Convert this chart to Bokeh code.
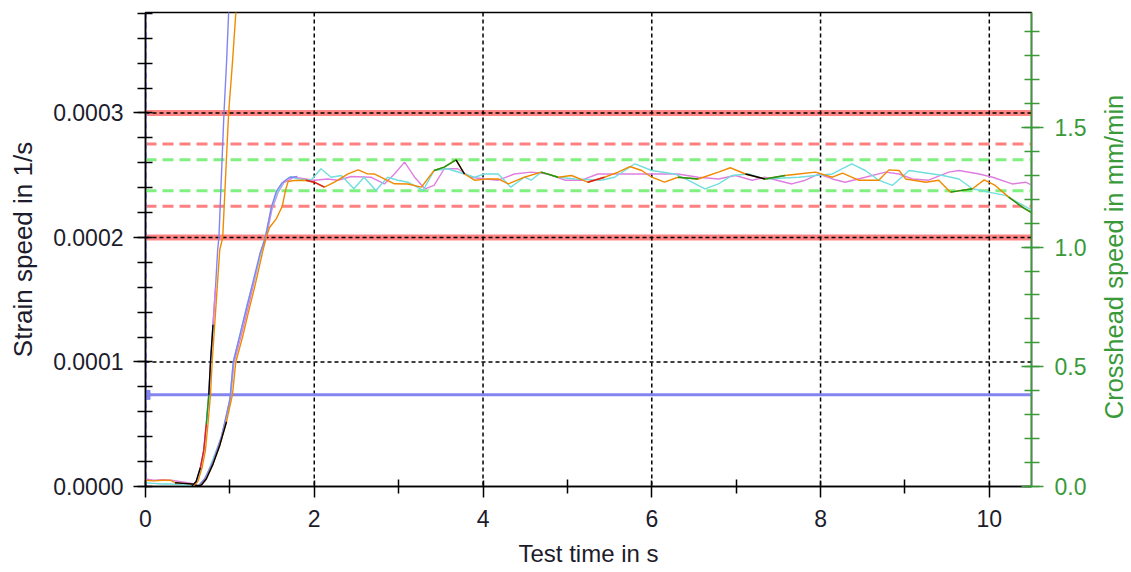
import math
from bokeh.plotting import figure
from bokeh.layouts import row
from bokeh.models import Range1d, LinearAxis, FixedTicker, PrintfTickFormatter, Span
from bokeh.core.properties import value
from bokeh.embed import file_html
from bokeh.resources import INLINE

# ---------------- data ----------------
x_ticks = [0, 2, 4, 6, 8, 10]
x_minor = [1, 3, 5, 7, 9]
y_ticks = [0.0, 0.0001, 0.0002, 0.0003]
y2_ticks = [0.0, 0.5, 1.0, 1.5]

limit_outer = [0.0002, 0.0003]          # solid red tolerance band
limit_10pct = [0.000225, 0.000275]      # red dashed
limit_5pct = [0.0002375, 0.0002625]     # green dashed
preset_rate = 0.0000736                 # blue horizontal line

# steep ramp curves
ramp_a_t = [0.55, 0.60, 0.65, 0.69, 0.72, 0.75, 0.77, 0.80, 0.83, 0.855, 0.87, 0.90, 0.93, 0.96, 0.985, 1.00]
ramp_a_v = [0.0000005, 0.000004, 0.000015, 0.000029, 0.00005, 0.0000736, 0.0001, 0.00013, 0.00016, 0.00019,
            0.0002, 0.00025, 0.0003, 0.00034, 0.00038, 0.0004]
ramp_b_t = [0.57, 0.62, 0.67, 0.71, 0.74, 0.77, 0.79, 0.82, 0.85, 0.88, 0.915, 0.95, 0.985, 1.03, 1.07, 1.09]
ramp_b_v = ramp_a_v

# strain speed curves
orange_t = [0.0, 0.1, 0.2, 0.3, 0.35, 0.45, 0.55, 0.62, 0.66, 0.72, 0.80, 0.88, 0.96, 1.03, 1.07, 1.15, 1.22,
            1.30, 1.39, 1.43, 1.47, 1.55, 1.62, 1.66, 1.69,
            1.76, 1.90, 2.00, 2.12, 2.24, 2.40, 2.52, 2.63, 2.71, 2.83, 2.95, 3.11, 3.27, 3.42, 3.54, 3.68, 3.78,
            3.90, 4.06, 4.18, 4.30, 4.49, 4.69, 4.89, 5.05, 5.24, 5.44, 5.60, 5.74, 5.88, 6.00, 6.15, 6.31, 6.55,
            6.79, 6.93, 7.11, 7.34, 7.58, 7.74, 7.94, 8.14, 8.26, 8.45, 8.69, 8.81, 8.93, 9.01, 9.25, 9.40, 9.54,
            9.80, 9.94, 10.07, 10.23, 10.39, 10.51]
orange_v = [0.000005, 0.0000045, 0.000005, 0.000005, 0.000003, 0.0000025, 0.000002, 0.0000005, 0.000001,
            0.000006, 0.000018, 0.000033, 0.000052, 0.0000736, 0.0001, 0.00012, 0.00014, 0.000162, 0.000189,
            0.0002, 0.000208, 0.000215, 0.000225, 0.000238, 0.000245,
            0.0002458, 0.000246, 0.0002444, 0.0002404, 0.0002444, 0.0002511, 0.0002543, 0.0002511, 0.000251,
            0.0002471, 0.0002431, 0.000243, 0.0002404, 0.0002538, 0.0002565, 0.0002624, 0.000251, 0.000246,
            0.0002471, 0.000247, 0.000243, 0.0002484, 0.0002525, 0.0002484, 0.0002498, 0.0002444, 0.0002484,
            0.0002525, 0.000257, 0.0002538, 0.0002484, 0.0002444, 0.0002484, 0.000247, 0.0002525, 0.000256,
            0.000251, 0.000247, 0.0002498, 0.000251, 0.0002525, 0.0002484, 0.0002517, 0.000246, 0.000246,
            0.0002543, 0.0002538, 0.000247, 0.0002444, 0.000246, 0.0002364, 0.0002391, 0.0002463, 0.0002418,
            0.0002324, 0.0002244, 0.0002196]

cyan_t = [0.0, 0.1, 0.2, 0.3, 0.4, 0.5, 0.6, 0.66, 0.72, 0.80, 0.90, 1.00, 1.04, 1.12, 1.20, 1.30, 1.37, 1.42,
          1.49, 1.56, 1.64, 1.72,
          1.80, 1.96, 2.08, 2.20, 2.32, 2.47, 2.59, 2.73, 2.87, 2.99, 3.11, 3.29, 3.42, 3.58, 3.78, 3.90, 4.02,
          4.18, 4.33, 4.49, 4.57, 4.69, 4.89, 5.09, 5.40, 5.56, 5.80, 6.00, 6.27, 6.43, 6.63, 6.79, 6.95, 7.15,
          7.34, 7.74, 7.94, 8.14, 8.37, 8.53, 8.69, 8.85, 9.05, 9.33, 9.45, 9.64, 9.80, 9.99, 10.19, 10.51]
cyan_v = [0.000003, 0.0000025, 0.000002, 0.000002, 0.0000015, 0.000001, 0.0000005, 0.000002, 0.000008,
          0.000022, 0.00004, 0.000068, 0.0001, 0.000122, 0.000145, 0.00017, 0.000189, 0.0002, 0.000223,
          0.000236, 0.000245, 0.000249,
          0.0002471, 0.000246, 0.0002552, 0.0002484, 0.0002498, 0.0002391, 0.0002484, 0.0002378, 0.0002484,
          0.000246, 0.0002444, 0.0002378, 0.0002538, 0.0002552, 0.000251, 0.0002484, 0.000251, 0.000251,
          0.0002404, 0.0002484, 0.000246, 0.0002525, 0.0002484, 0.000247, 0.000246, 0.0002484, 0.0002592,
          0.0002538, 0.000251, 0.000246, 0.0002391, 0.000243, 0.0002498, 0.000251, 0.000247, 0.0002484,
          0.0002498, 0.000251, 0.0002592, 0.0002538, 0.000246, 0.0002418, 0.0002538, 0.000251, 0.0002498,
          0.000247, 0.0002391, 0.0002364, 0.0002338, 0.0002217]

violet_t = [0.0, 0.1, 0.2, 0.3, 0.4, 0.5, 0.58, 0.64, 0.70, 0.78, 0.86, 0.94, 1.01, 1.05, 1.13, 1.21, 1.29,
            1.37, 1.43, 1.50, 1.57, 1.64,
            1.76, 2.00, 2.16, 2.28, 2.44, 2.67, 2.83, 2.95, 3.07, 3.19, 3.31, 3.42, 3.54, 3.70, 3.86, 4.02,
            4.18, 4.37, 4.57, 4.77, 4.97, 5.17, 5.36, 5.76, 6.31, 6.55, 6.79, 6.99, 7.19, 7.34, 7.66, 7.82,
            7.98, 8.14, 8.29, 8.53, 8.77, 8.93, 9.09, 9.28, 9.52, 9.64, 9.88, 10.04, 10.27, 10.43, 10.51]
violet_v = [0.000006, 0.000005, 0.0000055, 0.000005, 0.000004, 0.000003, 0.000002, 0.000001, 0.000006,
            0.000016, 0.00003, 0.00005, 0.0000736, 0.0001, 0.00012, 0.000142, 0.000165, 0.000189, 0.0002,
            0.000223, 0.000236, 0.000244,
            0.0002484, 0.000246, 0.000247, 0.000246, 0.000249, 0.0002484, 0.000243, 0.000251, 0.0002605,
            0.0002484, 0.0002391, 0.0002418, 0.0002552, 0.0002552, 0.0002484, 0.000247, 0.000246, 0.000251,
            0.0002525, 0.000251, 0.000246, 0.000246, 0.000251, 0.000251, 0.000251, 0.0002484, 0.000247,
            0.0002498, 0.000246, 0.0002484, 0.000243, 0.000246, 0.000251, 0.000247, 0.0002444, 0.0002484,
            0.0002525, 0.000251, 0.000247, 0.000246, 0.0002525, 0.0002538, 0.000251, 0.0002484, 0.000243,
            0.0002444, 0.0002418]

lavender_t = [0.62, 0.70, 0.80, 0.90, 1.00, 1.04, 1.12, 1.20, 1.28, 1.36, 1.42, 1.49, 1.55, 1.62, 1.70, 1.80]
lavender_v = [0.0, 0.000006, 0.00002, 0.00004, 0.00007, 0.0001, 0.000122, 0.000144, 0.000166, 0.000188,
              0.0002, 0.000224, 0.000237, 0.000244, 0.000248, 0.000249]

y2_title = "Crosshead speed in mm/min"

# ---------------- styles ----------------
FONT = "Liberation Sans"
ORANGE = "#f08a00"
CYAN = "#70dede"
VIOLET = "#e07ee0"
LAVENDER = "#8484f0"
GREEN_C = "#1a9a1a"
RED_C = "#e02020"
AX_GREEN = "#3a9a3a"
TXT = "#1c1c2c"
H = 570

p = figure(width=1094, height=H, min_border_left=145, min_border_right=63,
           min_border_top=12, min_border_bottom=84,
           x_range=Range1d(0, 10.5), y_range=Range1d(0, 0.0003807),
           output_backend="svg", toolbar_location=None)
p.extra_y_ranges = {"cross": Range1d(0, 1.98)}
p.background_fill_color = "white"
p.border_fill_color = "white"
p.outline_line_color = "black"
p.outline_line_width = 1.5
p.xgrid.visible = False
p.ygrid.visible = False

# bands / reference lines (underlay, drawn in order)
for yv in limit_outer:
    p.add_layout(Span(location=yv, dimension="width", line_color="#ff7070", line_alpha=0.85,
                      line_width=6, level="underlay"))
for yv in limit_10pct:
    p.add_layout(Span(location=yv, dimension="width", line_color="#ff8080", line_width=3,
                      line_dash="11 6", level="underlay"))
for yv in limit_5pct:
    p.add_layout(Span(location=yv, dimension="width", line_color="#80f080", line_width=3,
                      line_dash="11 6", level="underlay"))
for xv in x_ticks[1:]:
    p.add_layout(Span(location=xv, dimension="height", line_color="black", line_width=1.5,
                      line_dash="4 3", level="underlay"))
for yv in y_ticks[1:]:
    p.add_layout(Span(location=yv, dimension="width", line_color="black", line_width=1.5,
                      line_dash="4 3", level="underlay"))
p.add_layout(Span(location=preset_rate, dimension="width", line_color=LAVENDER, line_width=3,
                  level="underlay"))
p.add_layout(Span(location=0, dimension="height", line_color=LAVENDER, line_width=3,
                  line_dash="6 4", level="underlay"))


def draw(t, v, base, overrides=(), width=1.4):
    p.line(t, v, line_color=base, line_width=width)
    for a, b, col in overrides:
        xs = [ti for ti in t if a <= ti <= b]
        ys = [vi for ti, vi in zip(t, v) if a <= ti <= b]
        if len(xs) > 1:
            p.line(xs, ys, line_color=col, line_width=width)


draw(violet_t, violet_v, VIOLET)
draw(cyan_t, cyan_v, CYAN)
draw(lavender_t, lavender_v, LAVENDER)
draw(orange_t, orange_v, ORANGE,
     overrides=[(0.35, 0.66, "black"), (0.66, 0.96, "black"), (1.90, 2.12, RED_C), (3.42, 3.68, GREEN_C),
                (3.68, 3.78, "black"), (4.69, 4.89, GREEN_C), (5.24, 5.44, RED_C), (6.31, 6.55, GREEN_C),
                (7.11, 7.34, "black"), (7.34, 7.58, GREEN_C), (9.54, 9.80, GREEN_C), (10.23, 10.51, GREEN_C)])
draw(ramp_b_t, ramp_b_v, ORANGE)
draw(ramp_a_t, ramp_a_v, LAVENDER,
     overrides=[(0.55, 0.65, "black"), (0.65, 0.72, RED_C), (0.72, 0.75, GREEN_C), (0.75, 0.80, "black"),
                (0.80, 0.83, VIOLET)])

p.scatter([0], [preset_rate], marker="square", size=9, fill_color=LAVENDER, line_color=LAVENDER)

# ---------------- axes ----------------
xa = p.xaxis[0]
xa.ticker = FixedTicker(ticks=x_ticks, minor_ticks=x_minor)
xa.axis_label = "Test time in s"
ya = p.yaxis[0]
ya.ticker = FixedTicker(ticks=y_ticks, minor_ticks=[i * 0.00002 for i in range(20)])
ya.formatter = PrintfTickFormatter(format="%.4f")
ya.axis_label = "Strain speed in 1/s"

for ax in (xa, ya):
    ax.axis_line_color = "black"
    ax.axis_line_width = 1.5
    ax.major_tick_line_color = "black"
    ax.minor_tick_line_color = "black"
    ax.major_tick_line_width = 1.5
    ax.minor_tick_line_width = 1.5
    ax.major_label_text_font = FONT
    ax.major_label_text_font_size = "23px"
    ax.major_label_text_color = TXT
    ax.axis_label_text_font = FONT
    ax.axis_label_text_font_size = "24px"
    ax.axis_label_text_font_style = "normal"
    ax.axis_label_text_color = TXT
ya.axis_label_text_font_size = "26px"

xa.major_tick_in = 6
xa.major_tick_out = 11
xa.minor_tick_in = 7
xa.minor_tick_out = 7
xa.major_label_standoff = 12
xa.axis_label_standoff = 10

ya.major_tick_in = 2
ya.major_tick_out = 12
ya.minor_tick_in = 7
ya.minor_tick_out = 8
ya.major_label_standoff = 10
ya.axis_label_standoff = 12

ra = LinearAxis(y_range_name="cross")
ra.ticker = FixedTicker(ticks=y2_ticks, minor_ticks=[round(i * 0.1, 1) for i in range(20)])
ra.formatter = PrintfTickFormatter(format="%.1f")
ra.axis_line_color = AX_GREEN
ra.axis_line_width = 1.5
ra.major_tick_line_color = AX_GREEN
ra.minor_tick_line_color = AX_GREEN
ra.major_tick_line_width = 1.5
ra.minor_tick_line_width = 1.5
ra.major_tick_in = 10
ra.major_tick_out = 12
ra.minor_tick_in = 7
ra.minor_tick_out = 8
ra.major_label_standoff = 11
ra.major_label_text_font = FONT
ra.major_label_text_font_size = "23px"
ra.major_label_text_color = AX_GREEN
p.add_layout(ra, "right")

# narrow companion panel holding the right-axis title (reads bottom-to-top)
q = figure(width=37, height=H, min_border=0, x_range=Range1d(0, 37), y_range=Range1d(0, H),
           x_axis_type=None, y_axis_type=None, output_backend="svg", toolbar_location=None)
q.outline_line_color = None
q.xgrid.visible = False
q.ygrid.visible = False
q.text(x=[19], y=[H - 294], text=[y2_title], angle=math.pi / 2, text_align="center",
       text_baseline="middle", text_font=value(FONT), text_font_size="25.5px", text_color=AX_GREEN)

layout = row(p, q)
open("out.html", "w").write(file_html(layout, INLINE))
